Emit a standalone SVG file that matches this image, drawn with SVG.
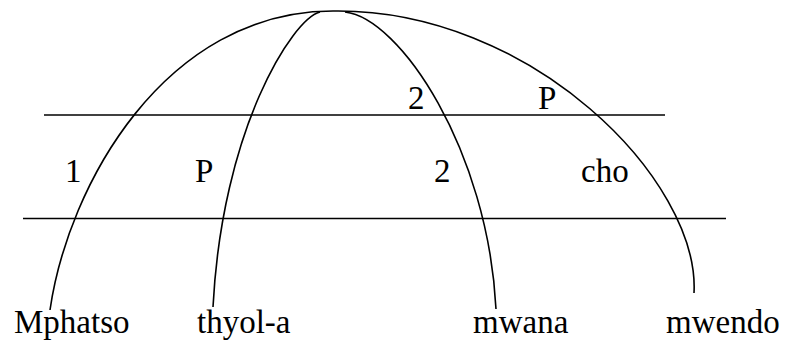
<svg xmlns="http://www.w3.org/2000/svg" width="786" height="341" viewBox="0 0 786 341">
<style>
.c{fill:none;stroke:#000;stroke-width:1.6}
.l{stroke:#000;stroke-width:1.6}
.t{font-size:33px;fill:#000}
</style>
<rect width="786" height="341" fill="#fff"/>
<g id="connectors">
<line class="l" x1="44" y1="115" x2="665" y2="115"/>
<line class="l" x1="23" y1="218.5" x2="726" y2="218.5"/>
<path class="c" d="M50,310 C68,185 165,11 333,11"/>
<path class="c" d="M333,11 C530,8 700,180 694,293"/>
<path class="c" d="M320,12 C292,19 222,130 213,307"/>
<path class="c" d="M345,12 C400,18 488,150 496,309"/>
</g>
<g font-family="Liberation Serif, Times New Roman, DejaVu Serif, serif">
<g id="Mphatso"><text class="t" x="14" y="333">Mphatso</text></g>
<g id="thyol-a"><text class="t" x="197" y="333">thyol-a</text></g>
<g id="mwana"><text class="t" x="473" y="333">mwana</text></g>
<g id="mwendo"><text class="t" x="666" y="333">mwendo</text></g>
<g id="labels">
<text class="t" x="65" y="182">1</text>
<text class="t" x="195" y="182">P</text>
<text class="t" x="434" y="182">2</text>
<text class="t" x="581" y="182">cho</text>
<text class="t" x="408" y="109">2</text>
<text class="t" x="538" y="109">P</text>
</g>
</g>
</svg>
